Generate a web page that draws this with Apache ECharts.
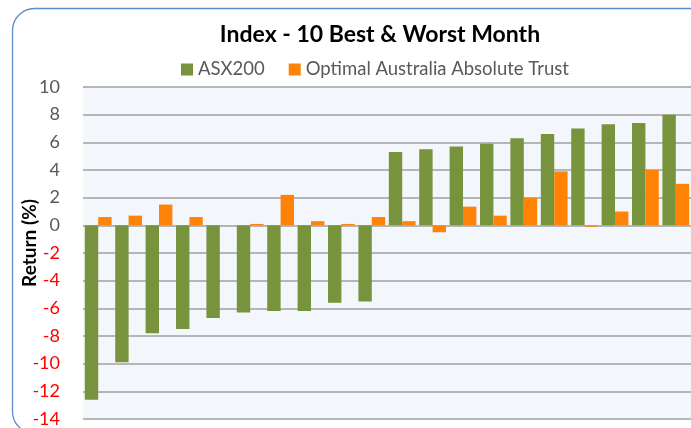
<!DOCTYPE html>
<html>
<head>
<meta charset="utf-8">
<script src="https://cdn.jsdelivr.net/npm/echarts@6/dist/echarts.min.js"></script>
<style>
    html, body { margin: 0; padding: 0; background: #fff; }
    #chart { width: 691px; height: 428px; }
</style>
</head>
<body>
<div id="chart"></div>
<script>
    // 20 months: 10 worst then 10 best for the index
    var months = ['1', '2', '3', '4', '5', '6', '7', '8', '9', '10',
                  '11', '12', '13', '14', '15', '16', '17', '18', '19', '20'];
    var asx200 = [-12.6, -9.9, -7.8, -7.5, -6.7, -6.3, -6.2, -6.2, -5.6, -5.5,
                  5.3, 5.5, 5.7, 5.9, 6.3, 6.6, 7.0, 7.3, 7.4, 8.0];
    var optimal = [0.6, 0.7, 1.5, 0.6, 0.0, 0.1, 2.2, 0.3, 0.1, 0.6,
                   0.3, -0.5, 1.35, 0.7, 2.0, 3.9, -0.1, 1.0, 4.0, 3.0];
    var yTicks = { min: -14, max: 10, interval: 2 };

    var font = 'Lato, "Open Sans", sans-serif';
    var chart = echarts.init(document.getElementById('chart'));

    chart.setOption({
        animation: false,
        graphic: [{
            // rounded frame, runs past the right edge like the screenshot
            type: 'rect',
            z: -10,
            shape: { x: 12.5, y: 8.5, width: 740, height: 425, r: 22 },
            style: { fill: '#fff', stroke: '#5B8BC9', lineWidth: 1.3 }
        }, {
            // axis title, placed by hand (sits a bit above the grid centre)
            type: 'text',
            x: 30,
            y: 243,
            rotation: Math.PI / 2,
            style: {
                text: 'Return (%)',
                align: 'center',
                verticalAlign: 'middle',
                fontFamily: font,
                fontWeight: 'bold',
                fontSize: 19,
                fill: '#000'
            }
        }],
        title: {
            text: 'Index - 10 Best & Worst Month',
            left: 375,
            textAlign: 'center',
            top: 18,
            textStyle: { fontFamily: font, fontWeight: 'bold', fontSize: 23, color: '#000' }
        },
        legend: {
            left: 176,
            top: 55,
            itemWidth: 12,
            itemHeight: 12,
            itemGap: 24,
            icon: 'rect',
            textStyle: { fontFamily: font, fontSize: 18.5, color: '#595959' },
            data: ['ASX200', 'Optimal Australia Absolute Trust']
        },
        grid: {
            left: 83,
            top: 87,
            width: 612,
            height: 333,
            show: true,
            backgroundColor: '#F3F6FB',
            borderWidth: 0
        },
        xAxis: {
            type: 'category',
            data: months,
            axisLine: { show: false },
            axisTick: { show: false },
            axisLabel: { show: false }
        },
        yAxis: {
            type: 'value',
            min: yTicks.min,
            max: yTicks.max,
            interval: yTicks.interval,
            axisLine: { show: false },
            axisTick: { show: false },
            axisLabel: {
                margin: 23,
                fontFamily: font,
                fontSize: 18,
                color: function (v) {
                    return v < 0 ? '#FF0000' : '#595959';
                }
            },
            splitLine: { lineStyle: { color: '#A0A0A0', width: 1.5 } }
        },
        series: [{
            name: 'ASX200',
            type: 'bar',
            data: asx200,
            barGap: '0%',
            barCategoryGap: '12%',
            itemStyle: { color: '#77933C' }
        }, {
            name: 'Optimal Australia Absolute Trust',
            type: 'bar',
            data: optimal,
            itemStyle: { color: '#FF8307' }
        }]
    });
</script>
</body>
</html>
